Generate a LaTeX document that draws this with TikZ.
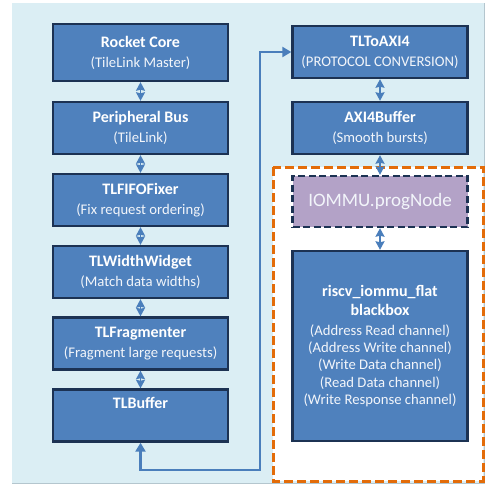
\documentclass[tikz,border=0pt]{standalone}
\usepackage{fontspec}
\setmainfont{Carlito}
\usetikzlibrary{arrows.meta}

\definecolor{bgblue}{HTML}{DBEEF4}
\definecolor{bgedge}{HTML}{B4C6CE}
\definecolor{boxfill}{HTML}{4F81BD}
\definecolor{boxline}{HTML}{1C3253}
\definecolor{subtext}{HTML}{F2F5FA}
\definecolor{iommufill}{HTML}{B3A2C7}
\definecolor{zoneorange}{HTML}{E36C09}
\definecolor{linkblue}{HTML}{4A7EBB}

\newcommand{\ttl}[1]{{\fontsize{16}{20}\selectfont\bfseries #1}}
\newcommand{\sbt}[1]{{\fontsize{14.7}{20}\selectfont\color{subtext}#1}}

\tikzset{
  stagebox/.style={draw=boxline, line width=2.4pt, fill=boxfill, text=white,
    align=center, minimum width=175pt, inner sep=0pt,
    font=\fontsize{14.7}{20}\selectfont},
  progbox/.style={draw=boxline, line width=2.4pt, fill=iommufill, dash pattern=on 7pt off 3.5pt,
    text=subtext, minimum width=175pt, minimum height=51pt, inner sep=0pt},
  dbl/.style={draw=linkblue, line width=1.6pt,
    {Stealth[length=8.5pt,width=9pt,inset=1pt]}-{Stealth[length=8.5pt,width=9pt,inset=1pt]}},
  bent/.style={draw=linkblue, line width=2.6pt,
    {Triangle[length=9pt,width=10pt]}-{Triangle[length=9pt,width=10pt]}},
  zone/.style={draw=zoneorange, line width=3pt, dash pattern=on 9pt off 4pt, fill=white}
}

\begin{document}
\begin{tikzpicture}[x=1pt,y=1pt]
\useasboundingbox (0,0) rectangle (486,-484);

% backdrop panel
\fill[bgblue] (12,-3) rectangle (484,-483);
\draw[bgedge, line width=1pt] (12,-483) -- (484,-483) -- (484,-3);

% IOMMU region
\draw[zone] (273,-167) rectangle (483,-481);

% left column
\node[stagebox, minimum height=57pt] (rc) at (140.5,-52.5)
  {\ttl{Rocket Core}\\\sbt{(TileLink Master)}};
\node[stagebox, minimum height=52pt] (pb) at (140.5,-128)
  {\ttl{Peripheral Bus}\\\sbt{(TileLink)}};
\node[stagebox, minimum height=52pt] (ff) at (140.5,-200)
  {\ttl{TLFIFOFixer}\\\sbt{(Fix request ordering)}};
\node[stagebox, minimum height=52pt] (ww) at (140.5,-272)
  {\ttl{TLWidthWidget}\\\sbt{(Match data widths)}};
\node[stagebox, minimum height=52pt] (fr) at (140.5,-343.5)
  {\ttl{TLFragmenter}\\\sbt{(Fragment large requests)}};
\node[stagebox, minimum height=52pt] (tb) at (140.5,-415.5)
  {\ttl{TLBuffer}\\\sbt{\strut}};

% right column
\node[stagebox, minimum height=52pt] (ax) at (380,-52)
  {\ttl{TLToAXI4}\\\sbt{(PROTOCOL CONVERSION)}};
\node[stagebox, minimum height=52pt] (ab) at (380,-128)
  {\ttl{AXI4Buffer}\\\sbt{(Smooth bursts)}};
\node[progbox] (pn) at (380,-201.5)
  {\fontsize{19}{22}\selectfont IOMMU.progNode};
\node[stagebox, minimum height=190pt, font=\fontsize{14.7}{17.2}\selectfont] (bb) at (380,-346)
  {\ttl{riscv\_iommu\_flat}\\[2pt]\ttl{blackbox}\\[2.5pt]
   \sbt{(Address Read channel)}\\\sbt{(Address Write channel)}\\
   \sbt{(Write Data channel)}\\\sbt{(Read Data channel)}\\
   \sbt{(Write Response channel)}};

% links between stages
\draw[dbl] (rc.south) -- (pb.north);
\draw[dbl] (pb.south) -- (ff.north);
\draw[dbl] (ff.south) -- (ww.north);
\draw[dbl] (ww.south) -- (fr.north);
\draw[dbl] (fr.south) -- (tb.north);
\draw[dbl] (ax.south) -- (ab.north);
\draw[dbl] (ab.south) -- (pn.north);
\draw[dbl] (pn.south) -- (bb.north);

% TLBuffer to TLToAXI4 route
\coordinate (turn) at (260,-470);
\draw[bent] (tb.south) |- (turn) |- (ax.west);
\end{tikzpicture}
\end{document}
